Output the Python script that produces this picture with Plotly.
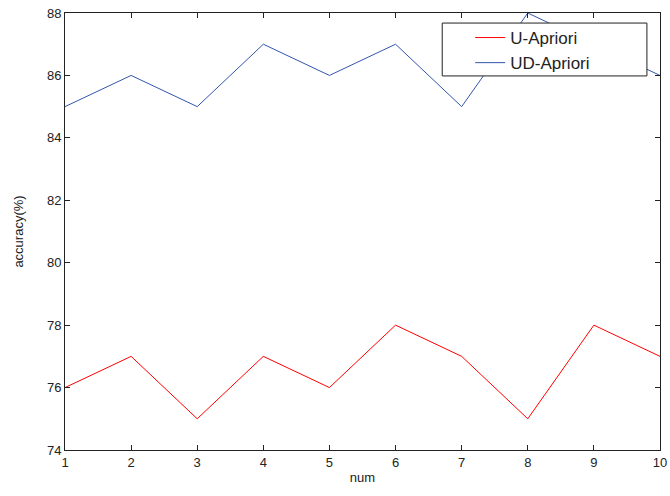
import plotly.graph_objects as go

num = [1, 2, 3, 4, 5, 6, 7, 8, 9, 10]
u_apriori = [76, 77, 75, 77, 76, 78, 77, 75, 78, 77]
ud_apriori = [85, 86, 85, 87, 86, 87, 85, 88, 87, 86]
y_ticks = [74, 76, 78, 80, 82, 84, 86, 88]

FONT = "Liberation Sans, Arial"

fig = go.Figure()
fig.add_trace(go.Scatter(x=num, y=u_apriori, mode="lines", name="U-Apriori",
                         legendgroup="a", line=dict(color="#ff0000", width=1)))
fig.add_trace(go.Scatter(x=num, y=ud_apriori, mode="lines", name="UD-Apriori",
                         legendgroup="b", line=dict(color="#3355aa", width=1)))

axis_common = dict(showgrid=False, zeroline=False, showline=True, linecolor="#222222",
                   linewidth=1, mirror="ticks", ticks="inside", ticklen=5,
                   tickcolor="#222222", automargin=False, ticklabeloverflow="allow",
                   tickfont=dict(family=FONT, size=13, color="#222222"))

fig.update_xaxes(range=[1, 10], tickvals=num, title=dict(text="num", standoff=4,
                 font=dict(family=FONT, size=13, color="#222222")), **axis_common)
fig.update_yaxes(range=[74, 88], tickvals=y_ticks, title=dict(text="accuracy(%)", standoff=20,
                 font=dict(family=FONT, size=13, color="#222222")), **axis_common)

# legend frame
fig.add_shape(type="rect", xref="paper", yref="paper", x0=0.634, x1=0.978, y0=0.856, y1=0.977,
              line=dict(color="#222222", width=1), fillcolor="white", layer="above")

fig.update_layout(
    width=670, height=496,
    margin=dict(l=65, r=10, t=13, b=46),
    paper_bgcolor="white", plot_bgcolor="white",
    showlegend=True,
    legend=dict(x=0.681, y=0.984, xanchor="left", yanchor="top",
                borderwidth=0, bgcolor="rgba(0,0,0,0)",
                font=dict(family=FONT, size=17, color="#222222"),
                traceorder="grouped", tracegroupgap=0),
)

fig.write_html("out.html", config={"displayModeBar": False},
               post_script="document.body.style.margin='0';")
